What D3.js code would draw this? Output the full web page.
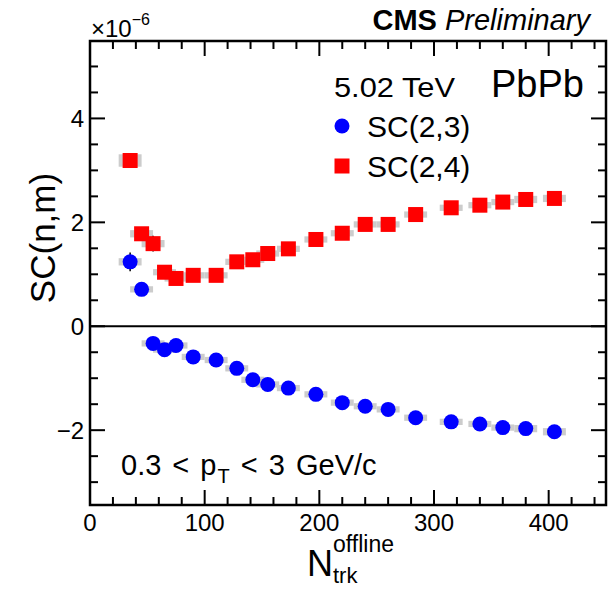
<!DOCTYPE html>
<html>
<head>
<meta charset="utf-8">
<script src="https://cdn.jsdelivr.net/npm/d3@7"></script>
<style>
    body { margin: 0; background: white; }
    svg { display: block; font-family: "Liberation Sans", Arial, sans-serif; }
</style>
</head>
<body>
<div id="chart"></div>
<script>
// N_trk^offline bin centres
var nTrk = [35, 45, 55, 65, 75, 90, 110, 128, 142, 155, 173, 197, 220, 240, 260, 284, 315, 340, 360, 380, 405];

// SC(2,3), units of 1e-6
var sc23 = [1.24, 0.71, -0.33, -0.45, -0.37, -0.59, -0.65, -0.81, -1.03, -1.12, -1.19, -1.31, -1.47, -1.54,
    -1.60, -1.76, -1.84, -1.88, -1.95, -1.97, -2.03];
var sc23Stat = [0.18, 0.10, 0.06, 0.05, 0.05, 0.04, 0.04, 0.03, 0.03, 0.03, 0.03, 0.03, 0.03, 0.03,
    0.03, 0.03, 0.03, 0.03, 0.03, 0.03, 0.03];
var sc23Sys = [0.07, 0.06, 0.06, 0.06, 0.06, 0.06, 0.06, 0.06, 0.06, 0.06, 0.06, 0.06, 0.06, 0.06,
    0.06, 0.06, 0.06, 0.06, 0.06, 0.07, 0.07];

// SC(2,4), units of 1e-6
var sc24 = [3.19, 1.78, 1.59, 1.04, 0.92, 0.98, 0.98, 1.24, 1.28, 1.40, 1.49, 1.67, 1.79, 1.96,
    1.96, 2.15, 2.28, 2.33, 2.39, 2.44, 2.46];
var sc24Stat = [0.10, 0.08, 0.15, 0.06, 0.05, 0.05, 0.04, 0.04, 0.03, 0.03, 0.03, 0.03, 0.03, 0.03,
    0.03, 0.03, 0.03, 0.03, 0.03, 0.03, 0.03];
var sc24Sys = [0.12, 0.07, 0.07, 0.06, 0.06, 0.06, 0.06, 0.06, 0.06, 0.06, 0.06, 0.06, 0.06, 0.06,
    0.06, 0.06, 0.06, 0.06, 0.06, 0.07, 0.07];

var xMajorTicks = [0, 100, 200, 300, 400];
var yMajorTicks = [-2, 0, 2, 4];

var width = 615, height = 590;
var frame = {left: 90, right: 606, top: 41, bottom: 505};
var boxHalfWidth = 10; // horizontal extent of systematic boxes, in N_trk units

var x = d3.scaleLinear().domain([0, 450]).range([frame.left, frame.right]);
var y = d3.scaleLinear().domain([-3.44, 5.49]).range([frame.bottom, frame.top]);

var svg = d3.select("#chart").append("svg")
    .attr("width", width).attr("height", height);

function buildPoints(values, stat, sys) {
    return nTrk.map(function (n, i) {
        return {x: n, y: values[i], stat: stat[i], sys: sys[i]};
    });
}

var points23 = buildPoints(sc23, sc23Stat, sc23Sys);
var points24 = buildPoints(sc24, sc24Stat, sc24Sys);

// zero line
svg.append("line")
    .attr("x1", frame.left).attr("x2", frame.right)
    .attr("y1", y(0)).attr("y2", y(0))
    .attr("stroke", "black").attr("stroke-width", 2);

function drawSeries(points, cls) {
    var g = svg.append("g").attr("class", cls);
    g.selectAll("rect.sys").data(points).enter().append("rect")
        .attr("class", "sys")
        .attr("x", function (d) { return x(d.x - boxHalfWidth); })
        .attr("width", function (d) { return x(d.x + boxHalfWidth) - x(d.x - boxHalfWidth); })
        .attr("y", function (d) { return y(d.y + d.sys); })
        .attr("height", function (d) { return y(d.y - d.sys) - y(d.y + d.sys); })
        .attr("fill", "#cccccc");
    g.selectAll("line.stat").data(points).enter().append("line")
        .attr("class", "stat")
        .attr("x1", function (d) { return x(d.x); })
        .attr("x2", function (d) { return x(d.x); })
        .attr("y1", function (d) { return y(d.y + d.stat); })
        .attr("y2", function (d) { return y(d.y - d.stat); })
        .attr("stroke", "black").attr("stroke-width", 1.5);
    return g;
}

var g23 = drawSeries(points23, "sc23");
g23.selectAll("circle").data(points23).enter().append("circle")
    .attr("cx", function (d) { return x(d.x); })
    .attr("cy", function (d) { return y(d.y); })
    .attr("r", 7.5)
    .attr("fill", "#0000ff");

var g24 = drawSeries(points24, "sc24");
g24.selectAll("rect.marker").data(points24).enter().append("rect")
    .attr("class", "marker")
    .attr("x", function (d) { return x(d.x) - 7.5; })
    .attr("y", function (d) { return y(d.y) - 7.5; })
    .attr("width", 15).attr("height", 15)
    .attr("fill", "#ff0000");

// frame with ticks on all four sides
function drawTicks(scale, values, isX, len) {
    var g = svg.append("g");
    values.forEach(function (v) {
        var p = scale(v);
        if (isX) {
            g.append("line").attr("x1", p).attr("x2", p)
                .attr("y1", frame.bottom).attr("y2", frame.bottom - len);
            g.append("line").attr("x1", p).attr("x2", p)
                .attr("y1", frame.top).attr("y2", frame.top + len);
        } else {
            g.append("line").attr("y1", p).attr("y2", p)
                .attr("x1", frame.left).attr("x2", frame.left + len);
            g.append("line").attr("y1", p).attr("y2", p)
                .attr("x1", frame.right).attr("x2", frame.right - len);
        }
    });
    g.selectAll("line").attr("stroke", "black").attr("stroke-width", 2);
}

drawTicks(x, d3.range(0, 451, 20).filter(function (v) { return v % 100 !== 0; }), true, 8);
drawTicks(x, xMajorTicks, true, 15);
drawTicks(y, d3.range(-3, 5.01, 0.5).filter(function (v) { return v % 2 !== 0; }), false, 8);
drawTicks(y, yMajorTicks, false, 15);

svg.append("rect")
    .attr("x", frame.left).attr("y", frame.top)
    .attr("width", frame.right - frame.left).attr("height", frame.bottom - frame.top)
    .attr("fill", "none").attr("stroke", "black").attr("stroke-width", 2.5);

// tick labels
svg.append("g").selectAll("text").data(xMajorTicks).enter().append("text")
    .attr("x", function (d) { return x(d); })
    .attr("y", 531)
    .attr("text-anchor", "middle")
    .attr("font-size", 24)
    .text(function (d) { return d; });

svg.append("g").selectAll("text").data(yMajorTicks).enter().append("text")
    .attr("x", 84)
    .attr("y", function (d) { return y(d) + 8.5; })
    .attr("text-anchor", "end")
    .attr("font-size", 24)
    .text(function (d) { return d < 0 ? "\u2212" + Math.abs(d) : d; });

// exponent
var expo = svg.append("text").attr("x", 91).attr("y", 37).attr("font-size", 24);
expo.append("tspan").text("\u00d710");
expo.append("tspan").attr("dy", -12).attr("font-size", 16).text("\u22126");

// axis titles
svg.append("text")
    .attr("transform", "translate(55,238) rotate(-90)")
    .attr("text-anchor", "middle")
    .attr("font-size", 35)
    .text("SC(n,m)");

var xt = svg.append("g").attr("transform", "translate(307,576)");
xt.append("text").attr("font-size", 36).text("N");
xt.append("text").attr("x", 26).attr("y", -24).attr("font-size", 23).text("offline");
xt.append("text").attr("x", 26).attr("y", 7).attr("font-size", 22).text("trk");

// CMS label
var cms = svg.append("text").attr("x", 590).attr("y", 30).attr("text-anchor", "end").attr("font-size", 29);
cms.append("tspan").attr("font-weight", "bold").text("CMS");
cms.append("tspan").attr("font-style", "italic").text(" Preliminary");

// legend
svg.append("text").attr("x", 334).attr("y", 97).attr("font-size", 28)
    .attr("textLength", 121).attr("lengthAdjust", "spacingAndGlyphs")
    .text("5.02 TeV");
svg.append("text").attr("x", 491).attr("y", 97).attr("font-size", 38).text("PbPb");

var legendItems = [
    {label: "SC(2,3)", shape: "circle", color: "#0000ff", yPos: 126},
    {label: "SC(2,4)", shape: "square", color: "#ff0000", yPos: 166}
];
legendItems.forEach(function (item) {
    if (item.shape === "circle") {
        svg.append("circle").attr("cx", 342).attr("cy", item.yPos).attr("r", 7.5).attr("fill", item.color);
    } else {
        svg.append("rect").attr("x", 334.5).attr("y", item.yPos - 7.5)
            .attr("width", 15).attr("height", 15).attr("fill", item.color);
    }
    svg.append("text").attr("x", 367).attr("y", item.yPos + 11).attr("font-size", 30).text(item.label);
});

// kinematic range
var pt = svg.append("text").attr("x", 121).attr("y", 475).attr("font-size", 29)
    .style("word-spacing", "3px");
pt.append("tspan").text("0.3 < p");
pt.append("tspan").attr("dx", 1).attr("dy", 8).attr("font-size", 20).text("T");
pt.append("tspan").attr("dy", -8).text(" < 3 GeV/c");
</script>
</body>
</html>
